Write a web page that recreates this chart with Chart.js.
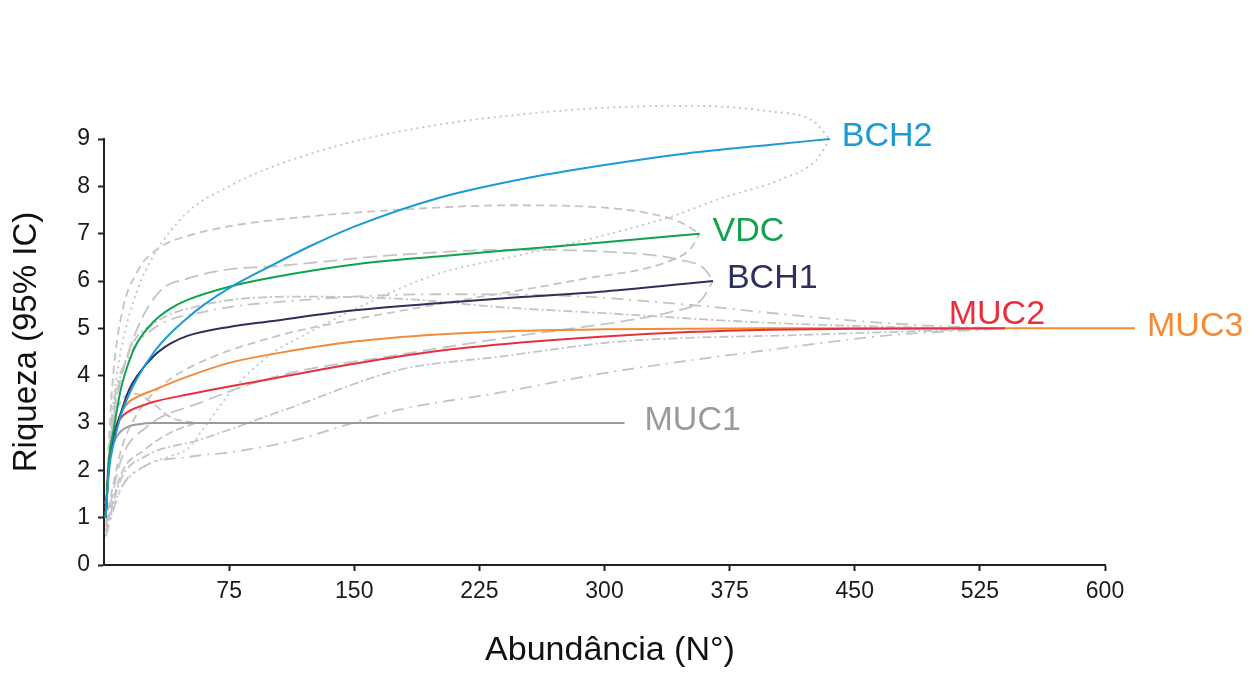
<!DOCTYPE html>
<html>
<head>
<meta charset="utf-8">
<script src="https://cdn.jsdelivr.net/npm/chart.js@4.4.1/dist/chart.umd.min.js"></script>
<style>
  html, body { margin: 0; padding: 0; background: #fff; }
</style>
</head>
<body>
<canvas id="chart" width="1256" height="675"></canvas>
<script>
// Rarefaction curves (abundance vs richness) per site
const siteNames = ['BCH2', 'VDC', 'BCH1', 'MUC2', 'MUC3', 'MUC1'];

const bch2X = [1, 3, 6, 10, 15, 20, 30, 40, 50, 60, 75, 100, 125, 150, 200, 250, 300, 350, 400, 435];
const bch2Y = [1, 2.0, 2.6, 3.15, 3.6, 3.95, 4.5, 4.9, 5.22, 5.5, 5.85, 6.32, 6.76, 7.15, 7.75, 8.15, 8.45, 8.7, 8.88, 9.0];
const vdcX = [1, 3, 6, 10, 15, 20, 30, 40, 50, 75, 100, 150, 200, 250, 300, 357];
const vdcY = [1, 2.2, 2.9, 3.7, 4.3, 4.7, 5.15, 5.42, 5.6, 5.88, 6.07, 6.35, 6.52, 6.67, 6.82, 7.0];
const bch1X = [1, 3, 6, 10, 15, 20, 30, 40, 50, 75, 100, 150, 200, 250, 300, 365];
const bch1Y = [1, 2.1, 2.7, 3.2, 3.7, 4.0, 4.42, 4.68, 4.84, 5.03, 5.15, 5.38, 5.53, 5.66, 5.78, 6.0];
const muc2X = [1, 3, 6, 10, 15, 20, 30, 50, 75, 100, 150, 200, 250, 300, 350, 400, 450, 540];
const muc2Y = [1, 2.2, 2.8, 3.1, 3.25, 3.33, 3.45, 3.6, 3.77, 3.93, 4.25, 4.52, 4.7, 4.83, 4.92, 4.97, 4.99, 5.0];
const muc3X = [1, 3, 6, 10, 15, 20, 30, 50, 75, 100, 150, 200, 250, 300, 400, 500, 618];
const muc3Y = [1, 2.2, 2.8, 3.2, 3.45, 3.55, 3.7, 3.98, 4.27, 4.45, 4.72, 4.87, 4.95, 4.98, 5.0, 5.0, 5.0];
const muc1X = [1, 3, 6, 10, 15, 20, 30, 312];
const muc1Y = [1, 2.2, 2.6, 2.82, 2.93, 2.97, 3.0, 3.0];

// 95% confidence bounds (upper and lower) per site
const bch2UpX = [1, 5, 10, 20, 30, 50, 75, 100, 150, 200, 250, 300, 350, 400, 425, 435];
const bch2UpY = [1.0, 3.2, 4.5, 5.8, 6.55, 7.45, 8.0, 8.4, 8.95, 9.3, 9.52, 9.66, 9.7, 9.58, 9.38, 9.0];
const bch2LoX = [1, 10, 25, 40, 50, 60, 77, 100, 125, 150, 200, 250, 300, 340, 370, 405, 427, 435];
const bch2LoY = [0.7, 1.6, 2.1, 2.3, 2.45, 2.9, 3.7, 4.45, 4.95, 5.4, 6.15, 6.55, 6.97, 7.36, 7.75, 8.14, 8.56, 9.0];
const vdcUpX = [1, 5, 10, 20, 34, 50, 74, 105, 174, 245, 300, 325, 345, 357];
const vdcUpY = [1.3, 3.8, 5.2, 6.2, 6.72, 6.95, 7.15, 7.3, 7.5, 7.6, 7.55, 7.44, 7.25, 7.0];
const vdcLoX = [1, 10, 20, 35, 57, 105, 137, 205, 285, 341, 352, 357];
const vdcLoY = [0.9, 2.4, 3.2, 3.8, 4.27, 4.85, 5.1, 5.54, 6.03, 6.45, 6.7, 7.0];
const bch1UpX = [1, 5, 10, 20, 34, 50, 74, 105, 175, 245, 300, 345, 360, 365];
const bch1UpY = [1.1, 2.9, 3.9, 5.0, 5.8, 6.05, 6.24, 6.32, 6.55, 6.66, 6.62, 6.45, 6.25, 6.0];
const bch1LoX = [1, 10, 25, 57, 105, 177, 250, 309, 340, 358, 365];
const bch1LoY = [0.8, 2.2, 2.9, 3.42, 4.0, 4.44, 4.85, 5.14, 5.35, 5.6, 6.0];
const muc2UpX = [1, 5, 15, 30, 54, 114, 180, 237, 300, 397, 497, 540];
const muc2UpY = [1.2, 3.0, 4.5, 5.1, 5.45, 5.67, 5.62, 5.45, 5.32, 5.12, 5.01, 5.0];
const muc2LoX = [1, 10, 25, 57, 110, 177, 237, 309, 417, 497, 540];
const muc2LoY = [0.7, 1.8, 2.3, 2.64, 3.3, 4.12, 4.4, 4.72, 4.86, 4.95, 5.0];
const muc3UpX = [1, 5, 15, 30, 60, 120, 200, 267, 350, 430, 487, 520, 540];
const muc3UpY = [1.3, 3.2, 4.4, 5.0, 5.35, 5.6, 5.72, 5.7, 5.5, 5.22, 5.07, 5.02, 5.0];
const muc3LoX = [1, 10, 25, 50, 77, 110, 177, 237, 301, 400, 470, 540];
const muc3LoY = [0.6, 1.6, 2.1, 2.28, 2.39, 2.6, 3.28, 3.64, 4.06, 4.55, 4.85, 5.0];
const muc1UpX = [1, 5, 10, 18, 28, 40, 55];
const muc1UpY = [1.3, 2.9, 3.45, 3.62, 3.45, 3.12, 3.0];
const muc1LoX = [1, 10, 25, 40, 55];
const muc1LoY = [0.7, 1.9, 2.45, 2.8, 3.0];

const xTicks = [0, 75, 150, 225, 300, 375, 450, 525, 600];
const yTicks = [0, 1, 2, 3, 4, 5, 6, 7, 8, 9];

// styles
const siteColors = ['#1b9ad7', '#10a24e', '#2f2f5f', '#e8303c', '#f68a35', '#9a9a9a'];
const ciDashes = [[2, 4], [8, 5], [14, 6], [9, 3, 2, 3], [12, 6, 2, 6], [8, 4]];
// label placement: 'right' of the line end, or 'above' it
const labelPlace = [
    { mode: 'right', dx: 12 }, { mode: 'right', dx: 13 }, { mode: 'right', dx: 14 },
    { mode: 'above', dx: -8 }, { mode: 'right', dx: 12 }, { mode: 'right', dx: 20 }
];

const pts = (xs, ys) => xs.map((x, i) => ({ x: x, y: ys[i] }));

const mainLines = [
    pts(bch2X, bch2Y), pts(vdcX, vdcY), pts(bch1X, bch1Y),
    pts(muc2X, muc2Y), pts(muc3X, muc3Y), pts(muc1X, muc1Y)
];
const ciLines = [
    [pts(bch2UpX, bch2UpY), pts(bch2LoX, bch2LoY)],
    [pts(vdcUpX, vdcUpY), pts(vdcLoX, vdcLoY)],
    [pts(bch1UpX, bch1UpY), pts(bch1LoX, bch1LoY)],
    [pts(muc2UpX, muc2UpY), pts(muc2LoX, muc2LoY)],
    [pts(muc3UpX, muc3UpY), pts(muc3LoX, muc3LoY)],
    [pts(muc1UpX, muc1UpY), pts(muc1LoX, muc1LoY)]
];

const datasets = [];
mainLines.forEach((data, i) => {
    datasets.push({
        label: siteNames[i],
        data: data,
        borderColor: siteColors[i],
        borderWidth: 2,
        pointRadius: 0,
        cubicInterpolationMode: 'monotone',
        clip: false
    });
});
ciLines.forEach((pair, i) => {
    pair.forEach((data, j) => {
        datasets.push({
            label: siteNames[i] + (j === 0 ? ' sup' : ' inf'),
            data: data,
            borderColor: '#c4c4c4',
            borderWidth: 1.8,
            borderDash: ciDashes[i],
            pointRadius: 0,
            cubicInterpolationMode: 'monotone',
            clip: false
        });
    });
});

const FONT = '"Liberation Sans", Arial, Helvetica, sans-serif';

// Axis titles and site labels drawn on the canvas
const textPlugin = {
    id: 'texts',
    afterDraw(chart) {
        const ctx = chart.ctx;
        ctx.save();
        ctx.font = '34px ' + FONT;
        siteNames.forEach((name, i) => {
            const meta = chart.getDatasetMeta(i);
            const last = meta.data[meta.data.length - 1];
            const p = labelPlace[i];
            ctx.fillStyle = siteColors[i];
            if (p.mode === 'above') {
                ctx.textAlign = 'center';
                ctx.textBaseline = 'alphabetic';
                ctx.fillText(name, last.x + p.dx, last.y - 4);
            } else {
                ctx.textAlign = 'left';
                ctx.textBaseline = 'middle';
                ctx.fillText(name, last.x + p.dx, last.y - 2);
            }
        });

        ctx.fillStyle = '#111';
        ctx.textBaseline = 'alphabetic';
        ctx.textAlign = 'center';
        ctx.font = '34px ' + FONT;
        ctx.fillText('Abundância (N°)', 610, 660);

        ctx.translate(36, 342);
        ctx.rotate(-Math.PI / 2);
        ctx.font = '33px ' + FONT;
        ctx.fillText('Riqueza (95% IC)', 0, 0);
        ctx.restore();
    }
};

new Chart(document.getElementById('chart'), {
    type: 'line',
    data: { datasets: datasets },
    options: {
        responsive: false,
        animation: false,
        devicePixelRatio: 1,
        layout: { padding: { top: 139, right: 151, bottom: 0, left: 0 } },
        plugins: { legend: { display: false }, tooltip: { enabled: false } },
        scales: {
            x: {
                type: 'linear',
                min: 0,
                max: 600,
                afterFit(scale) { scale.height = 110; },
                afterBuildTicks(scale) { scale.ticks = xTicks.map(v => ({ value: v })); },
                ticks: {
                    autoSkip: false,
                    maxRotation: 0,
                    padding: 7,
                    color: '#1a1a1a',
                    font: { family: FONT, size: 23 },
                    callback: v => (v === 0 ? '' : String(v))
                },
                grid: {
                    drawOnChartArea: false,
                    drawTicks: true,
                    tickLength: 6,
                    tickWidth: 2,
                    tickColor: c => (c.tick && c.tick.value === 0 ? 'rgba(0,0,0,0)' : '#222')
                },
                border: { display: true, color: '#222', width: 2 }
            },
            y: {
                min: 0,
                max: 9,
                afterFit(scale) { scale.width = 104; },
                afterBuildTicks(scale) { scale.ticks = yTicks.map(v => ({ value: v })); },
                ticks: {
                    padding: 8,
                    color: '#1a1a1a',
                    font: { family: FONT, size: 23 }
                },
                grid: {
                    drawOnChartArea: false,
                    drawTicks: true,
                    tickLength: 6,
                    tickWidth: 2,
                    tickColor: '#222'
                },
                border: { display: true, color: '#222', width: 2 }
            }
        }
    },
    plugins: [textPlugin]
});
</script>
</body>
</html>
